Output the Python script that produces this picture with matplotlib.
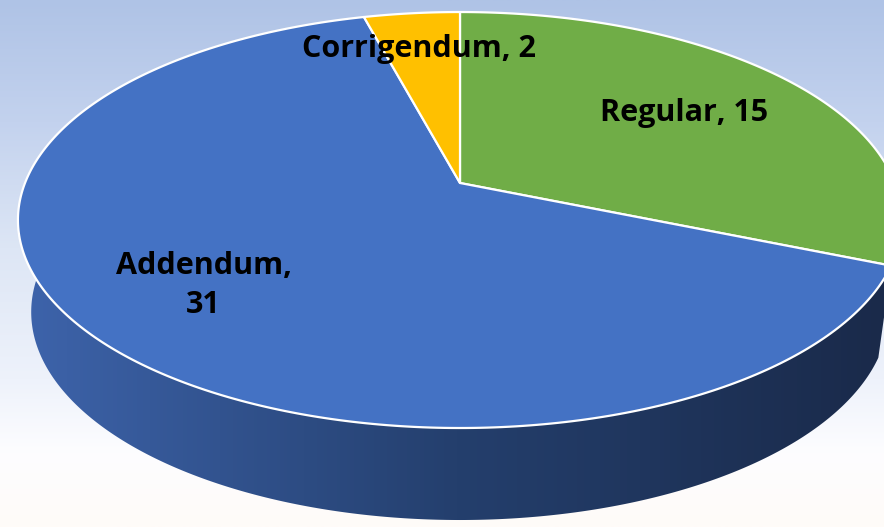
import numpy as np
import matplotlib
matplotlib.use("Agg")
import matplotlib.pyplot as plt
from matplotlib.colors import LinearSegmentedColormap
from matplotlib.patches import Polygon

# ---- data ---- #
labels = ["Regular", "Addendum", "Corrigendum"]
values = [15, 31, 2]
colors = ["#70ad47", "#4472c4", "#ffc000"]
label_radius = [0.67, 0.71, 0.76]
label_text = ["Regular, 15", "Addendum,\n31", "Corrigendum, 2"]

# ---- geometry of the 3d pie (pixels) ---- #
W, H = 884, 527
CX, CY = 460, 183
A, B, K = 435, 201.4, 0.178
DEPTH, SHRINK = 92, 0.97


def project(phi, r=1.0):
    phi = np.radians(phi)
    u, v = r * np.cos(phi), r * np.sin(phi)
    w = 1 + K * v
    return CX + A * u / w, CY - B * v / w


def bottom(x, y):
    return CX + SHRINK * (x - CX), y + DEPTH


fig = plt.figure(figsize=(W / 100, H / 100), dpi=100)
ax = fig.add_axes([0, 0, 1, 1])
ax.set_xlim(0, W)
ax.set_ylim(H, 0)
ax.axis("off")

# ---- background ---- #
bg = LinearSegmentedColormap.from_list("bg", [
    (0.0, "#afc3e6"), (0.23, "#c3d2ee"), (0.47, "#dde6f5"),
    (0.72, "#eef2fb"), (0.86, "#fdfdff"), (1.0, "#fffbf8")])
ax.imshow(np.linspace(0, 1, 256)[:, None], cmap=bg, aspect="auto",
          extent=[0, W, H, 0], zorder=0)

side_cmap = LinearSegmentedColormap.from_list("side", [
    (0.0, "#3d63aa"), (0.5, "#243f6d"), (1.0, "#1a2a4a")])

# ---- slices ---- #
total = sum(values)
start = 90.0
spans = []
for val in values:
    end = start - val / total * 360
    spans.append((start, end))
    start = end

# side of the big slice (front half: from its start down to -180)
s, e = spans[1]
ph = np.linspace(s, -180, 300)
xt, yt = project(ph)
xb, yb = bottom(xt, yt)
pts = np.column_stack([np.r_[xt, xb[::-1]], np.r_[yt, yb[::-1]]])
poly = Polygon(pts, closed=True, facecolor="none", edgecolor="none", zorder=2)
ax.add_patch(poly)
im = ax.imshow(np.linspace(0, 1, 256)[None, :], cmap=side_cmap,
               aspect="auto", extent=[30, 884, H, 0], zorder=2)
im.set_clip_path(poly)

# top face
for (s, e), c in zip(spans, colors):
    ph = np.linspace(s, e, 300)
    x, y = project(ph)
    pts = np.column_stack([np.r_[CX, x], np.r_[CY, y]])
    ax.add_patch(Polygon(pts, closed=True, facecolor=c, edgecolor="white",
                         linewidth=1.6, joinstyle="round", zorder=3))

# ---- labels ---- #
for (s, e), r, t in zip(spans, label_radius, label_text):
    x, y = project((s + e) / 2, r)
    ax.text(x - 3, y, t, ha="center", va="center", fontsize=22,
            fontweight="bold", family="Open Sans", color="black",
            linespacing=1.4, zorder=5)

plt.savefig("out.png", dpi=100)
